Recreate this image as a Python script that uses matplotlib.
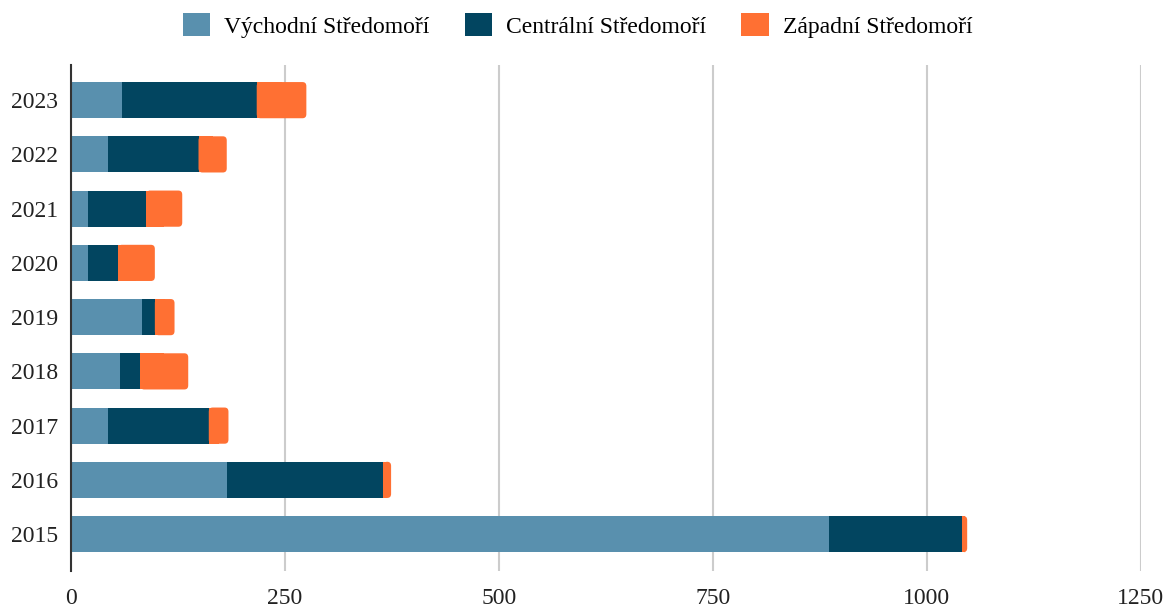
import numpy as np
import matplotlib.pyplot as plt
from matplotlib.patches import FancyBboxPatch, Rectangle, Patch

# Data
years = ['2015', '2016', '2017', '2018', '2019', '2020', '2021', '2022', '2023']
vychodni = [886, 182, 43, 57, 83, 20, 20, 43, 60]
centralni = [155, 183, 118, 24, 15, 35, 68, 106, 157]
zapadni = [6, 9, 23, 56, 23, 43, 42, 33, 58]
series_names = ['Východní Středomoří', 'Centrální Středomoří', 'Západní Středomoří']
colors = ['#5990ae', '#024560', '#ff7033']

plt.rcParams['font.family'] = ['Liberation Serif', 'DejaVu Serif']

fig = plt.figure(figsize=(11.69, 6.09), dpi=100)
ax = fig.add_axes([0.0607, 0.0624, 0.9153, 0.8306])

y = np.arange(len(years))
left = np.zeros(len(years))
bars = []
for vals, name, c in zip([vychodni, centralni, zapadni], series_names, colors):
    bars.append(ax.barh(y, vals, left=left, height=0.667, color=c, label=name, zorder=3))
    left += np.array(vals)

ax.set_xlim(0, 1250)
ax.set_ylim(-0.68, 8.645)

# rounded right end on the last segment
rx = 4.5   # rounding in data units along x
ry = 0.075 # along y
for r in bars[-1]:
    x0, y0, w, h = r.get_x(), r.get_y(), r.get_width(), r.get_height()
    r.set_visible(False)
    ax.add_patch(FancyBboxPatch((x0, y0), w, h,
                                boxstyle=f"round,pad=0,rounding_size={rx}",
                                mutation_aspect=ry / rx, fc=r.get_facecolor(),
                                ec='none', zorder=3))
    ax.add_patch(Rectangle((x0, y0), w / 2, h, fc=r.get_facecolor(), ec='none', zorder=3))

ax.set_xticks([0, 250, 500, 750, 1000, 1250])
ax.set_yticks(y)
ax.set_yticklabels(years)
ax.tick_params(axis='both', length=0, labelsize=17, colors='#222222')
ax.tick_params(axis='x', pad=12)
ax.tick_params(axis='y', pad=9)

ax.grid(axis='x', color='#cccccc', linewidth=1.5, zorder=0)
for s in ['top', 'right', 'bottom']:
    ax.spines[s].set_visible(False)
ax.spines['left'].set_color('#333333')
ax.spines['left'].set_linewidth(1.5)
ax.spines['left'].set_zorder(4)

handles = [Patch(facecolor=c, edgecolor='none') for c in colors]
fig.legend(handles=handles, labels=series_names,
           loc='upper center', bbox_to_anchor=(0.494, 1.013), ncol=3, frameon=False,
           fontsize=17, handlelength=1.15, handleheight=1.1, columnspacing=1.5,
           handletextpad=0.6)

fig.savefig('out.png', dpi=100)
